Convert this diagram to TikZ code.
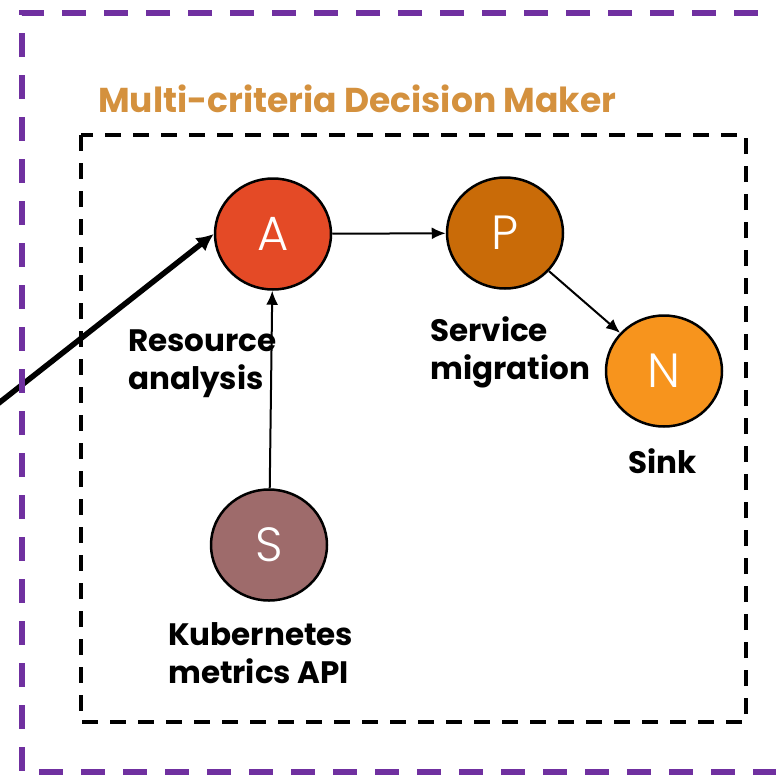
\documentclass[tikz,border=0pt]{standalone}
\usepackage{fontspec}
\setmainfont{Poppins}
\newfontfamily\letterfont{Poppins Light}
\usetikzlibrary{arrows.meta,shapes.geometric}

\definecolor{framepurple}{HTML}{7030A0}
\definecolor{titleorange}{HTML}{D4913E}
\definecolor{fillA}{HTML}{E44A26}
\definecolor{fillP}{HTML}{C96B08}
\definecolor{fillN}{HTML}{F7941D}
\definecolor{fillS}{HTML}{9E6B6B}

\begin{document}
\begin{tikzpicture}[x=1pt,y=-1pt,
  stage/.style={ellipse, draw=black, line width=2.5pt, inner sep=0pt,
    minimum width=116pt, minimum height=111pt, text=white,
    font=\letterfont\fontsize{48}{48}\selectfont},
  % captions are placed by the baseline of their last line
  caption/.style={anchor=base west, align=left, inner sep=0pt,
    font=\bfseries\fontsize{31}{38}\selectfont},
  flow/.style={line width=2pt, -{Latex[length=14pt,width=12pt]}},
  feedflow/.style={line width=5.5pt, -{Latex[length=17pt,width=17pt]}},
]
\useasboundingbox (0,0) rectangle (776,779);
\clip (0,0) rectangle (776,779);

% decision maker box
\node[anchor=base west, inner sep=0pt, text=titleorange,
  font=\bfseries\fontsize{34.5}{36}\selectfont] (title) at (98,112)
  {Multi-criteria Decision Maker};
\draw[black, line width=3.5pt, dash pattern=on 16pt off 12pt]
  (81,135) rectangle (746,722);

% stages
\node[stage, fill=fillA] (A) at (273,234) {A};
\node[stage, fill=fillP] (P) at (505,233) {P};
\node[stage, fill=fillN] (N) at (664,371) {N};
\node[stage, fill=fillS] (S) at (269,545) {S};

% captions
\node[caption] (capA) at (128,389) {Resource\\analysis};
\node[caption] (capP) at (430,379) {Service\\migration};
\node[caption] (capN) at (628,473) {Sink};
\node[caption] (capS) at (168,683) {Kubernetes\\metrics API};

% connectors
\coordinate (feed) at (-10,410);
\draw[feedflow] (feed) -- (A.west);
\draw[flow] (A) -- (P);
\draw[flow] (S) -- (A);
\draw[flow] (P) -- (N);

% outer dashed frame (runs past the right edge), on top of the feed line
\draw[framepurple, line width=6pt, dash pattern=on 24pt off 18pt]
  (800,13) -- (22,13) -- (22,772) -- (800,772);
\end{tikzpicture}
\end{document}
